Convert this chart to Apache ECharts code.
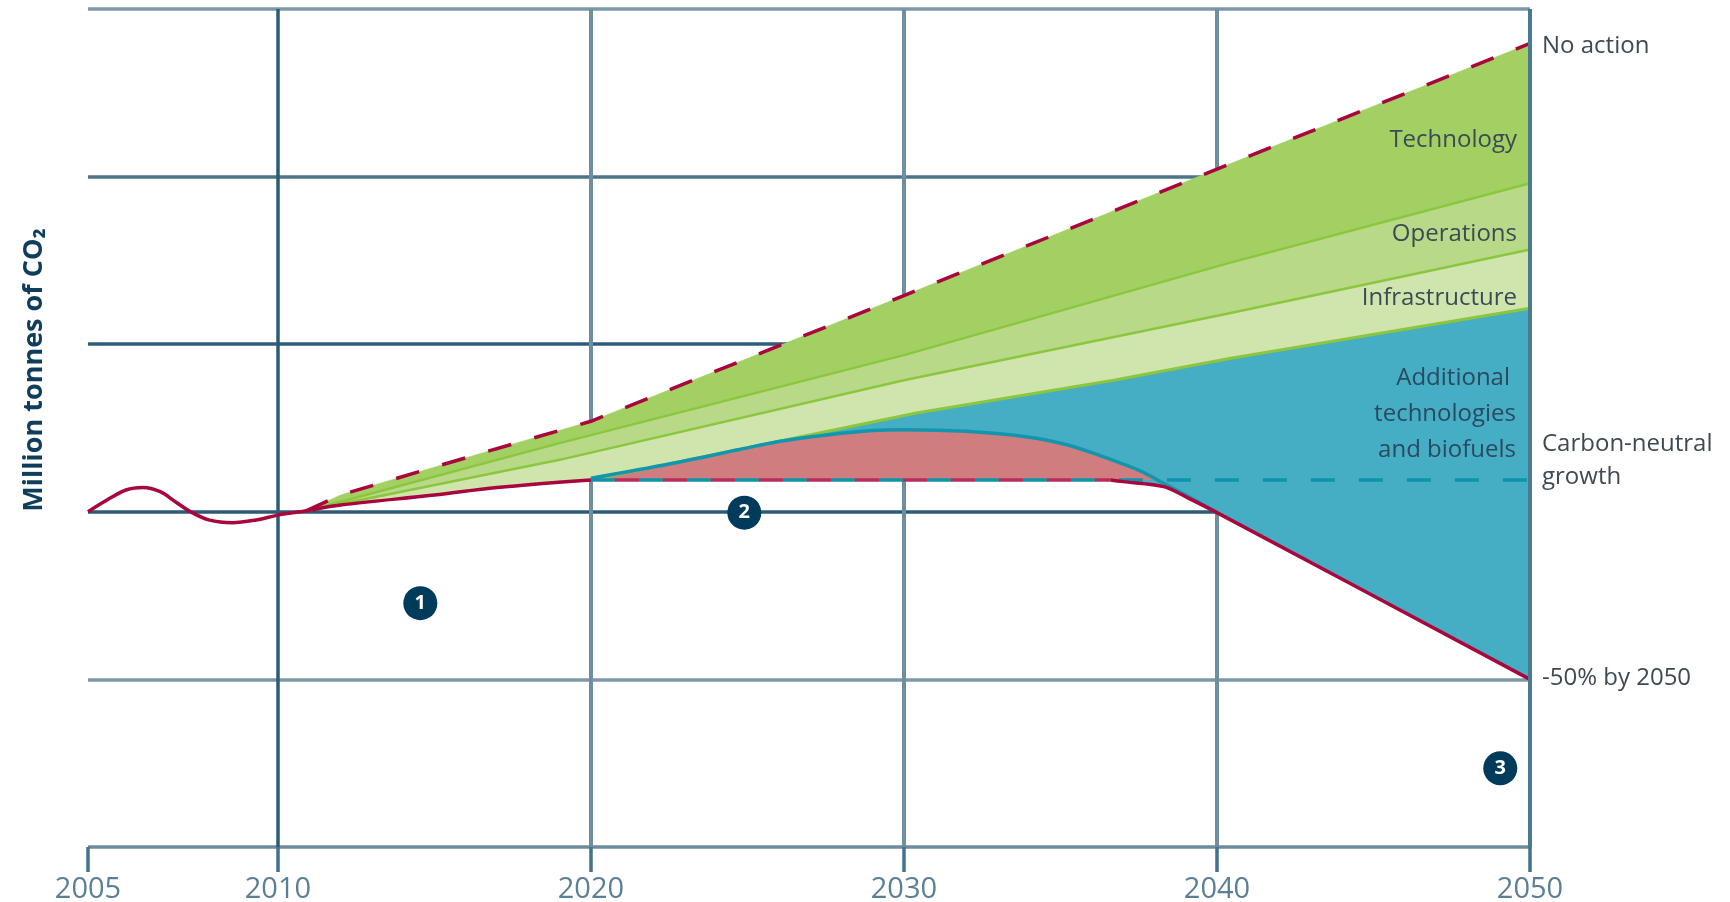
<!DOCTYPE html>
<html><head><meta charset="utf-8">
<style>html,body{margin:0;padding:0;background:#fff}#c{width:1730px;height:902px}</style>
<script src="https://cdn.jsdelivr.net/npm/echarts@6/dist/echarts.min.js"></script>
</head><body><div id="c"></div>
<script>
const tickYears=[2005,2010,2020,2030,2040,2050];
const history=[[2005,400],[2005.5,414],[2006,426],[2006.45,429],[2006.9,424],[2007.3,412],[2007.7,400],[2008.2,390],[2008.8,387],[2009.4,390],[2010,396],[2010.7,400],[2012,408],[2015,420],[2017,429],[2020,438]];
const noAction=[[2010.9,401],[2012,420],[2016.5,470],[2020,508],[2030,658],[2040,809],[2050,959]];
const techOps=[[2010.9,401],[2019,482],[2030,587],[2040.4,697],[2050,792]];
const opsInfra=[[2010.9,401],[2019,462],[2030,557],[2040.4,637],[2050,713]];
const infraLower=[[2010.9,401],[2012,408],[2015,420],[2017,429],[2020,438]];
const infraAdd=[[2020,438],[2030.4,518],[2036.7,557],[2040.4,583],[2050,643]];
const tealCurve=[[2020,440],[2022.5,457],[2024.7,474],[2026,484],[2027.6,492],[2029,497],[2030,498],[2032,496],[2034,489],[2035.2,480],[2036.2,468],[2037,457],[2037.6,448],[2038.1,438],[2039,420],[2040,399]];
const neutral=[[2020,438],[2050,438]];
const neutralRed=[[2020,438],[2036.6,438]];
const decline=[[2036.6,438],[2037,436],[2038.3,430],[2039.1,416],[2040,399],[2050,200]];
const pinkBase=[[2020,438],[2038.1,438]];
const markers=[[2014.55,291,'1'],[2024.9,399,'2'],[2049.05,94,'3']];

// The reference's 2005–2010 span is drawn wider per year than the later decades.
const OLD=190/156.6;
const u=y=>y>=2010?y:2010-(2010-y)*OLD;
const mapU=a=>a.map(p=>[u(p[0]),p[1]]);
const yearOf=v=>tickYears.find(y=>Math.abs(u(y)-v)<1e-6);

function band(name,upper,lower,color){
  const pts=[...mapU(upper),...mapU(lower).reverse()];
  return {type:'custom',name,z:2,silent:true,clip:false,data:pts,encode:{x:0,y:1},
    renderItem(params,api){
      if(params.dataIndex!==0)return null;
      return {type:'polygon',shape:{points:pts.map(p=>api.coord(p))},style:{fill:color,stroke:color,lineWidth:.5}};
    }};
}
function line(name,data,color,width,z,dash,offset,smooth){
  return {type:'line',name,z,silent:true,symbol:'none',showSymbol:false,data:mapU(data),clip:false,smooth:smooth||false,
    lineStyle:{color,width,type:dash||'solid',dashOffset:offset||0,cap:'butt',join:'round'}};
}
const GRID='#6f8fa0',DARK='#2b5c76';
const vLine=(y,c,w)=>({xAxis:u(y),lineStyle:{color:c,width:w,type:'solid'}});
function text(x,y,t,align,opt){
  return {type:'text',x,y,z:20,style:Object.assign({text:t,align,verticalAlign:'middle',
    font:'24px "Open Sans"',fill:'#3c4a55'},opt||{})};
}
const chart=echarts.init(document.getElementById('c'),null,{renderer:'canvas'});
chart.setOption({
  animation:false,backgroundColor:'#fff',
  grid:{left:88,right:200,top:9,bottom:55,containLabel:false,outerBoundsMode:'none'},
  xAxis:{type:'value',min:u(2005),max:2050,axisLine:{show:false},splitLine:{show:false},
    axisTick:{show:true,length:25,customValues:tickYears.map(u),lineStyle:{color:'#46718a',width:3.5}},
    axisLabel:{customValues:tickYears.map(u),margin:28,formatter:v=>String(yearOf(v)),fontFamily:'Open Sans',fontSize:29,color:'#5b7f95',hideOverlap:false,showMinLabel:true,showMaxLabel:true}},
  yAxis:{type:'value',min:0,max:1000,interval:200,axisLine:{show:false},axisTick:{show:false},axisLabel:{show:false},
    splitLine:{show:true,lineStyle:{width:3.5,color:['#6f8c9c','#7d99a8','#2b5c76','#2f5f78','#4d7589','#7d99a8']}}},
  series:[
    {type:'line',name:'grid',z:1,silent:true,symbol:'none',data:[],markLine:{silent:true,symbol:'none',label:{show:false},z:1,
      data:[vLine(2005,DARK,3.5),vLine(2010,DARK,3.5),vLine(2020,GRID,4),vLine(2030,GRID,4),vLine(2040,GRID,4)]}},
    band('Technology',noAction,techOps,'#a2d063'),
    band('Operations',techOps,opsInfra,'#b8da88'),
    band('Infrastructure',opsInfra,[...infraLower,...infraAdd.slice(1)],'#d0e5ad'),
    band('Additional technologies and biofuels',infraAdd,[[2020,438],...decline],'#45adc4'),
    band('Carbon-neutral gap',tealCurve,pinkBase,'#cf7d7e'),
    line('Operations edge',techOps,'#8cc63f',2.5,3),
    line('Infrastructure edge',opsInfra,'#8cc63f',2.5,3),
    line('Additional edge',infraAdd,'#8cc63f',3,3),
    line('Teal curve',tealCurve,'#1296ae',3.5,4,null,0,0.3),
    line('Carbon-neutral growth',neutral,'#0f93ad',3.5,5,[24,24],0),
    line('Carbon-neutral red',neutralRed,'#b82c58',3.5,6,[24,24],24),
    line('History',history,'#a8063c',3.5,7,null,0,0.35),
    line('Decline',decline,'#a8063c',3.5,7,null,0,0.3),
    line('No action',noAction,'#a8063c',3.5,7,[24,24]),
    {type:'line',name:'right edge',z:8,silent:true,symbol:'none',data:[],markLine:{silent:true,symbol:'none',label:{show:false},z:8,
      data:[{xAxis:2050,lineStyle:{color:'#4a7a8d',width:4,type:'solid'}}]}},
    {type:'scatter',name:'markers',z:9,silent:true,symbolSize:34,itemStyle:{color:'#003b5c',opacity:1},
      data:markers.map(m=>({value:[u(m[0]),m[1]],label:{formatter:m[2]}})),
      label:{show:true,position:'inside',color:'#fff',fontFamily:'Open Sans',fontWeight:'bold',fontSize:20}}
  ],
  graphic:[
    text(1517,140,'Technology','right'),
    text(1517,234,'Operations','right'),
    text(1517,298,'Infrastructure','right'),
    text(1510,378,'Additional','right',{fill:'#2a4a60'}),
    text(1516,414,'technologies','right',{fill:'#2a4a60'}),
    text(1516,450,'and biofuels','right',{fill:'#2a4a60'}),
    text(1542,46,'No action','left'),
    text(1542,444,'Carbon-neutral','left'),
    text(1542,477,'growth','left'),
    text(1542,678,'-50% by 2050','left'),
    {type:'text',x:34,y:370,rotation:Math.PI/2,z:20,style:{text:'Million tonnes of CO₂',align:'center',verticalAlign:'middle',font:'bold 27px "Open Sans"',fill:'#0f3d5c'}}
  ]
});
</script></body></html>
